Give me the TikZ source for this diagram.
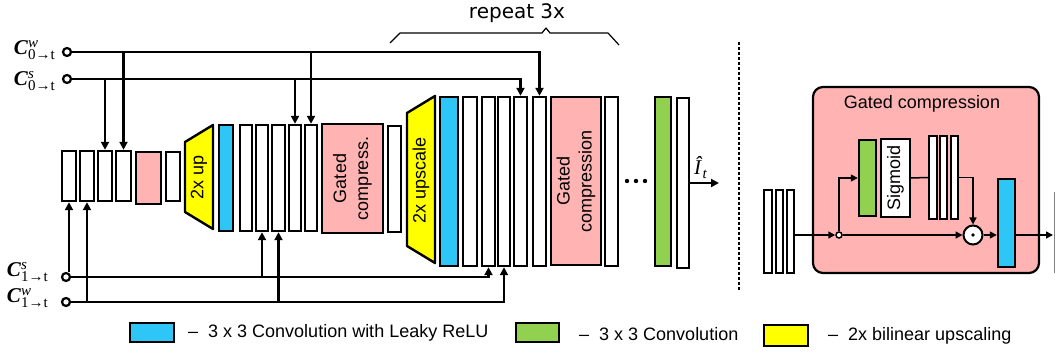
\documentclass[tikz,border=0pt]{standalone}
\usepackage{fontspec}
\setmainfont{Liberation Sans}
\newfontfamily\dvs{DejaVu Sans}
\newfontfamily\lserif{Liberation Serif}
\usetikzlibrary{arrows.meta}
\definecolor{pk}{HTML}{FFB3B3}
\definecolor{bl}{HTML}{2EC6F7}
\definecolor{gr}{HTML}{92D050}
\definecolor{yl}{HTML}{FFFF00}
\newcommand\blk[6]{%
  \pgfmathsetmacro\bw{#3-#2}\pgfmathsetmacro\bh{#5-#4}%
  \pgfmathsetmacro\bx{(#2+#3)/2}\pgfmathsetmacro\by{(#4+#5)/2}%
  \node[#6, minimum width=\bw pt, minimum height=\bh pt] (#1) at (\bx,\by) {};}
\newcommand\clab[2]{{\lserif\fontsize{21}{22}\selectfont\textbf{\textit{C}}%
  \fontsize{15}{16}\selectfont\rlap{\raisebox{7pt}{\textit{#1}}}\raisebox{-5pt}{#2}}}
\begin{document}
\begin{tikzpicture}[x=1pt,y=-1pt,
  font=\fontsize{18}{22}\selectfont,
  blk/.style={draw, line width=2.4pt, inner sep=0pt, fill=white},
  bblk/.style={blk, fill=bl},
  gblk/.style={blk, fill=gr},
  pblk/.style={blk, fill=pk},
  sblk/.style={blk, line width=1.8pt},
  trap/.style={draw, line width=2.4pt, fill=yl, line join=round},
  conn/.style={line width=2.2pt},
  arr/.style={conn, -{Triangle[length=8pt,width=8pt]}},
  conn2/.style={line width=1.5pt},
  arr2/.style={conn2, -{Triangle[length=7pt,width=7pt]}},
  inp/.style={circle, draw, line width=2.2pt, minimum size=8pt, inner sep=0pt, fill=white},
  mlab/.style={anchor=base east, inner sep=0pt},
  rtxt/.style={rotate=90, align=center, inner sep=0pt}]
\useasboundingbox (0,0) rectangle (1055,352);

% ---------- inputs ----------
\node[inp] (cw0) at (67,52) {};
\node[inp] (cs0) at (67,79) {};
\node[inp] (cs1) at (66,277) {};
\node[inp] (cw1) at (66,302) {};
\node[mlab] (lcw0) at (55,55) {\clab{w}{0→t}};
\node[mlab] (lcs0) at (55,86) {\clab{s}{0→t}};
\node[mlab] (lcs1) at (48,277) {\clab{s}{1→t}};
\node[mlab] (lcw1) at (48,303) {\clab{w}{1→t}};

% ---------- group 1 ----------
\blk{b1}{62}{76}{151}{201}{blk}
\blk{b2}{80}{94}{151}{201}{blk}
\blk{b3}{98}{112}{151}{201}{blk}
\blk{b4}{116}{131}{151}{201}{blk}
\blk{p1}{136}{161}{152}{204}{pblk}
\blk{b5}{166}{180}{152}{201}{blk}
\draw[trap] (185,142) -- (213,125) -- (213,229) -- (185,212) -- cycle;
\node[rtxt] (t1) at (199,177) {2x up};

% ---------- group 2 ----------
\blk{g2bl}{219}{233}{125}{231}{bblk}
\blk{g2w1}{240}{252}{125}{231}{blk}
\blk{g2w2}{256}{268}{125}{231}{blk}
\blk{g2w3}{272}{285}{125}{231}{blk}
\blk{g2w4}{289}{301}{125}{231}{blk}
\blk{g2w5}{305}{317}{125}{231}{blk}
\blk{p2}{322}{383}{124}{233}{pblk}
\node[rtxt] (tp2) at (p2.center) {Gated\\compress.};
\blk{g2w6}{388}{401}{126}{232}{blk}
\draw[trap] (407,113) -- (435,96) -- (435,263) -- (407,246) -- cycle;
\node[rtxt] (t2) at (421,180) {2x upscale};

% ---------- group 3 ----------
\blk{g3bl}{440}{458}{97}{266}{bblk}
\blk{g3w1}{463}{477}{97}{266}{blk}
\blk{g3w2}{482}{495}{97}{266}{blk}
\blk{g3w3}{498}{510}{97}{266}{blk}
\blk{g3w4}{514}{527}{97}{266}{blk}
\blk{g3w5}{533}{546}{97}{266}{blk}
\blk{p3}{551}{601}{97}{265}{pblk}
\node[rtxt] (tp3) at (p3.center) {Gated\\compression};
\blk{g3w6}{605}{618}{97}{266}{blk}
\foreach \dx in {627,636,645} \fill (\dx,181) circle (2.2);
\blk{grn4}{655}{671}{97}{266}{gblk}
\blk{wout}{677}{689}{98}{268}{blk}
\coordinate (iout) at (719,183);
\draw[arr] (wout.east |- iout) -- (iout);
\node[anchor=base west, inner sep=0pt] (lout) at (694,175) {{\lserif\fontsize{21}{22}\selectfont\textit{Î}\fontsize{15}{16}\selectfont\raisebox{-4pt}{\textit{t}}}};

% ---------- brace ----------
\draw[line width=1.2pt, line join=round] (390,43) -- (400,33) -- (542,33) -- (546,28) -- (550,33) -- (608,33) -- (619,45);
\node[font=\dvs\fontsize{20}{24}\selectfont] (rep) at (517,13) {repeat 3x};

% ---------- connectors ----------
\draw[arr] (cw0) -- (cw0 -| g3w5) -- (g3w5.north);
\draw[arr] (cw0 -| b4) -- (b4.north);
\draw[arr] (cw0 -| g2w5) -- (g2w5.north);
\draw[arr] (cs0) -- (cs0 -| g3w4) -- (g3w4.north);
\draw[arr] (cs0 -| b3) -- (b3.north);
\draw[arr] (cs0 -| g2w4) -- (g2w4.north);
\draw[arr] (cs1) -- (cs1 -| g3w2) -- (g3w2.south);
\draw[arr] (cs1.north -| b1) -- (b1.south);
\draw[arr] (cs1 -| g2w2) -- (g2w2.south);
\draw[arr] (cw1) -- (cw1 -| g3w3) -- (g3w3.south);
\draw[arr] (cw1 -| b2) -- (b2.south);
\draw[arr] (cw1 -| g2w3) -- (g2w3.south);

% ---------- separator ----------
\draw[line width=2.6pt, dash pattern=on 2.6pt off 2.4pt] (739,42) -- (739,290);

% ---------- gated compression detail ----------
\blk{rb1}{764}{772}{190}{273}{sblk}
\blk{rb2}{776}{783}{190}{273}{sblk}
\blk{rb3}{787}{794}{190}{273}{sblk}
\node[draw, line width=2.2pt, fill=pk, rounded corners=10pt, minimum width=226pt, minimum height=186pt, inner sep=0pt] (gc) at (926,180) {};
\node (gct) at (922,104) {Gated compression};
\node[circle, draw, line width=1.5pt, fill=white, minimum size=6pt, inner sep=0pt] (sc) at (839,235) {};
\blk{grn}{859}{876}{140}{216}{gblk}
\blk{sig}{881}{910}{139}{217}{sblk}
\node[rtxt] (sigt) at (sig.center) {Sigmoid};
\blk{rw1}{929}{937}{136}{219}{sblk}
\blk{rw2}{940}{947}{136}{219}{sblk}
\blk{rw3}{951}{958}{136}{219}{sblk}
\node[circle, draw, line width=2pt, fill=white, minimum size=19pt, inner sep=0pt] (od) at (973,235) {};
\fill (od.center) circle (1.8);
\blk{rbl}{998}{1015}{179}{267}{bblk}
\coordinate (rout) at (1053,235);
\draw[arr2] (rb3.east |- sc) -- (sc);
\draw[arr2] (sc) |- (grn.west);
\draw[conn2] (sig.east) -- (rw1.west);
\draw[arr2] (rw3.east) -| (od.north);
\draw[arr2] (sc) -- (od);
\draw[arr2] (od) -- (rbl.west |- od);
\draw[arr2] (rbl.east |- od) -- (rout);
\draw[gray, line width=1pt] (1054,192) -- (1054,273);

% ---------- legend ----------
\blk{lb}{130}{174}{323}{342}{bblk}
\node[anchor=west, inner sep=0pt] (lbt) at (188,333) {–\hspace{10pt}3 x 3 Convolution with Leaky ReLU};
\blk{lg}{516}{559}{323}{342}{gblk}
\node[anchor=west, inner sep=0pt] (lgt) at (579,334) {–\hspace{10pt}3 x 3 Convolution};
\blk{ly}{764}{808}{325}{346}{blk, fill=yl}
\node[anchor=west, inner sep=0pt] (lyt) at (828,336) {–\hspace{10pt}2x bilinear upscaling};
\end{tikzpicture}
\end{document}
